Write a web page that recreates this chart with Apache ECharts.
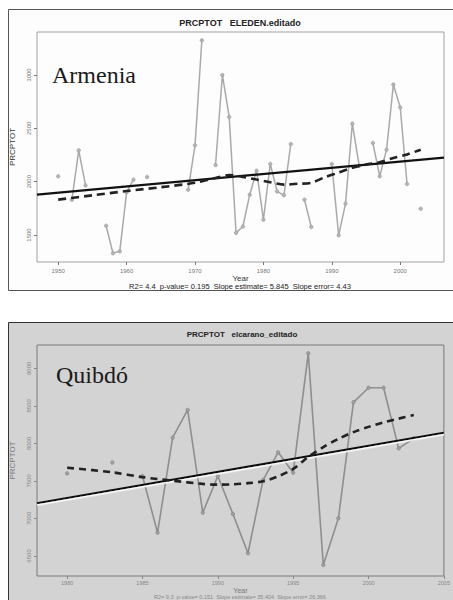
<!DOCTYPE html>
<html>
<head>
<meta charset="utf-8">
<script src="https://cdn.jsdelivr.net/npm/echarts@6/dist/echarts.min.js"></script>
<style>html,body{margin:0;padding:0;background:#fff}#c{width:453px;height:600px}</style>
</head>
<body>
<div id="c"></div>
<script>
// ---- Armenia (ELEDEN) ----
const armeniaYears = [1950,1951,1952,1953,1954,1955,1956,1957,1958,1959,1960,1961,1962,1963,1964,1965,1966,1967,1968,1969,1970,1971,1972,1973,1974,1975,1976,1977,1978,1979,1980,1981,1982,1983,1984,1985,1986,1987,1988,1989,1990,1991,1992,1993,1994,1995,1996,1997,1998,1999,2000,2001,2002,2003];
const armeniaValues = [2050,null,1830,2294,1965,null,null,1587,1330,1347,1900,2019,null,2044,null,null,null,null,null,1925,2341,3325,null,2156,3000,2607,1520,1580,1878,2103,1644,2166,1909,1872,2353,null,1831,1575,null,null,2166,1497,1794,2544,2150,null,2363,2050,2300,2910,2697,1978,null,1747];
const armeniaSmoothYears = [1950,1955,1960,1965,1970,1973,1975,1977,1979,1981,1983,1985,1987,1989,1991,1993,1995,1997,1999,2001,2003];
const armeniaSmoothValues = [1832,1872,1912,1948,1990,2035,2062,2045,2020,1995,1972,1980,1990,2042,2085,2130,2160,2183,2222,2255,2300];
const armeniaTrendYears = [1946.9,2006.4];
const armeniaTrendValues = [1878,2226];
const armeniaXTicks = [1950,1960,1970,1980,1990,2000];
const armeniaYTicks = [1500,2000,2500,3000];

// ---- Quibdó (elcarano) ----
const quibdoYears = [1980,1981,1982,1983,1984,1985,1986,1987,1988,1989,1990,1991,1992,1993,1994,1995,1996,1997,1998,1999,2000,2001,2002,2003];
const quibdoValues = [7600,null,null,7745,null,7565,6810,8076,8445,7077,7565,7059,6536,7512,7881,7610,9200,6380,7002,8547,8742,8742,7934,8067];
const quibdoSmoothYears = [1980,1983,1985,1987,1989,1990,1991,1992,1993,1994,1995,1996,1997,1998,1999,2000,2001,2002,2003];
const quibdoSmoothValues = [7676,7615,7550,7503,7460,7450,7455,7470,7495,7560,7660,7820,7950,8060,8150,8220,8280,8330,8378];
const quibdoTrendYears = [1978,2005];
const quibdoTrendValues = [7202,8142];
const quibdoXTicks = [1980,1985,1990,1995,2000,2005];
const quibdoYTicks = [6500,7000,7500,8000,8500,9000];

const pair = (xs, ys) => xs.map((x, i) => [x, ys[i]]);
const FONT = '"Liberation Sans", Arial, sans-serif';
const SERIF = '"Liberation Serif", "Times New Roman", serif';
const plain = v => String(v);

const chart = echarts.init(document.getElementById('c'), null, {renderer: 'svg'});

function xAxis(gi, min, max, ticks, color, gap, nameSize, labelSize, labelMargin) {
  return {
    type: 'value', gridIndex: gi, min, max,
    axisLine: {show: false}, splitLine: {show: false},
    axisTick: {show: true, customValues: ticks, length: 3, inside: false, lineStyle: {color: color, width: 1}},
    axisLabel: {customValues: ticks, formatter: plain, fontSize: labelSize, color: color, margin: labelMargin, fontFamily: FONT},
    name: 'Year', nameLocation: 'middle', nameGap: gap,
    nameTextStyle: {fontSize: nameSize, color: gi === 0 ? '#333' : '#777', fontFamily: FONT}
  };
}
function yAxis(gi, min, max, ticks, color) {
  return {
    type: 'value', gridIndex: gi, min, max,
    axisLine: {show: false}, splitLine: {show: false},
    axisTick: {show: true, customValues: ticks, length: 3, lineStyle: {color: color, width: 1}},
    axisLabel: {customValues: ticks, formatter: plain, fontSize: 6, color: color, rotate: 90, margin: 5, fontFamily: FONT},
    name: 'PRCPTOT', nameLocation: 'middle', nameGap: 21,
    nameTextStyle: {fontSize: 8, color: gi === 0 ? '#333' : '#777', fontFamily: FONT}
  };
}

const option = {
  animation: false,
  grid: [
    {left: 37, top: 32, width: 407, height: 230, show: true, backgroundColor: '#fdfdfd', borderColor: '#a0a0a0', borderWidth: 1},
    {left: 37, top: 345, width: 410, height: 231, show: true, backgroundColor: '#d3d3d3', borderColor: '#7a7a7a', borderWidth: 1}
  ],
  xAxis: [
    xAxis(0, 1946.9, 2006.4, armeniaXTicks, '#777', 8, 8, 6, 6),
    xAxis(1, 1978, 2005, quibdoXTicks, '#888', 11, 7, 5.5, 4)
  ],
  yAxis: [
    yAxis(0, 1247, 3403, armeniaYTicks, '#777'),
    yAxis(1, 6233, 9311, quibdoYTicks, '#888')
  ],
  series: [
    {type: 'line', xAxisIndex: 0, yAxisIndex: 0, data: pair(armeniaYears, armeniaValues), connectNulls: false,
     showSymbol: true, symbol: 'circle', symbolSize: 3.5,
     lineStyle: {color: '#a9a9a9', width: 1.5}, itemStyle: {color: '#b5b5b5', borderColor: '#999', borderWidth: 0.6}, z: 2},
    {type: 'line', xAxisIndex: 0, yAxisIndex: 0, data: pair(armeniaTrendYears, armeniaTrendValues), showSymbol: false,
     lineStyle: {color: '#111', width: 2.2}, z: 3},
    {type: 'line', xAxisIndex: 0, yAxisIndex: 0, data: pair(armeniaSmoothYears, armeniaSmoothValues), showSymbol: false, smooth: 0.3,
     lineStyle: {color: '#222', width: 2.6, type: [8, 5]}, z: 4},

    {type: 'line', xAxisIndex: 1, yAxisIndex: 1, data: pair(quibdoYears, quibdoValues), connectNulls: false,
     showSymbol: true, symbol: 'circle', symbolSize: 3.5,
     lineStyle: {color: '#8e8e8e', width: 1.6}, itemStyle: {color: '#a0a0a0', borderColor: '#808080', borderWidth: 0.6}, z: 2},
    {type: 'line', xAxisIndex: 1, yAxisIndex: 1, data: pair(quibdoTrendYears, quibdoTrendValues), showSymbol: false,
     lineStyle: {color: '#111', width: 2.2, shadowColor: '#ffffff', shadowBlur: 0, shadowOffsetY: 1.5}, z: 3},
    {type: 'line', xAxisIndex: 1, yAxisIndex: 1, data: pair(quibdoSmoothYears, quibdoSmoothValues), showSymbol: false, smooth: 0.3,
     lineStyle: {color: '#222', width: 2.6, type: [7, 5]}, z: 4}
  ],
  graphic: [
    {type: 'rect', z: -100, shape: {x: 8.5, y: 9.5, width: 460, height: 281}, style: {fill: '#fdfdfd', stroke: '#555', lineWidth: 1}},
    {type: 'rect', z: -100, shape: {x: 8.5, y: 322.5, width: 460, height: 300}, style: {fill: '#d3d3d3', stroke: '#333', lineWidth: 1}},
    {type: 'text', z: 100, style: {text: 'PRCPTOT   ELEDEN.editado', x: 240, y: 23, textAlign: 'center', textVerticalAlign: 'middle', font: 'bold 9px ' + FONT, fill: '#222'}},
    {type: 'text', z: 100, style: {text: 'Armenia', x: 52, y: 75, textAlign: 'left', textVerticalAlign: 'middle', font: '24px ' + SERIF, fill: '#1a1a1a'}},
    {type: 'text', z: 100, style: {text: 'R2= 4.4  p-value= 0.195  Slope estimate= 5.845  Slope error= 4.43', x: 240, y: 286.5, textAlign: 'center', textVerticalAlign: 'middle', font: '7.5px ' + FONT, fill: '#222'}},
    {type: 'text', z: 100, style: {text: 'PRCPTOT   elcarano_editado', x: 242, y: 334, textAlign: 'center', textVerticalAlign: 'middle', font: 'bold 8px ' + FONT, fill: '#222'}},
    {type: 'text', z: 100, style: {text: 'Quibdó', x: 56, y: 375, textAlign: 'left', textVerticalAlign: 'middle', font: '24px ' + SERIF, fill: '#1a1a1a'}},
    {type: 'text', z: 100, style: {text: 'R2= 9.3  p-value= 0.151  Slope estimate= 35.404  Slope error= 26.366', x: 240, y: 597, textAlign: 'center', textVerticalAlign: 'middle', font: '5.5px ' + FONT, fill: '#888'}}
  ]
};
chart.setOption(option);
</script>
</body>
</html>
